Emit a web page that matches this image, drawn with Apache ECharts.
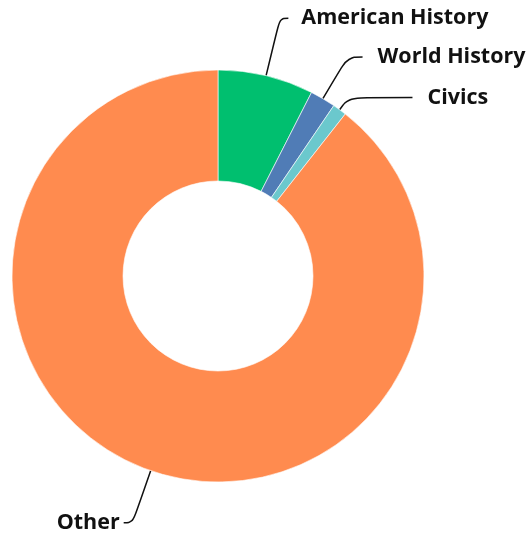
<!DOCTYPE html>
<html>
<head>
<meta charset="utf-8">
<script src="https://cdn.jsdelivr.net/npm/echarts@6/dist/echarts.min.js"></script>
<style>
html,body{margin:0;padding:0;background:#fff;}
#donut{width:528px;height:538px;}
</style>
</head>
<body>
<div id="donut"></div>
<script>
// share of items by subject (percent)
var subjects = ['American History', 'World History', 'Civics', 'Other'];
var shares = [7.5, 2.0, 1.1, 89.4];
var colors = ['#00bf6f', '#507cb6', '#6bc8cd', '#ff8b4f'];

// label line lengths per slice
var lineLen = [59, 48.5, 15, 55];
var lineLen2 = [8.5, 15, 64, 9];
var labelGap = [13, 15, 15, 4];

var chart = echarts.init(document.getElementById('donut'));

var pieData = subjects.map(function(name, i){
	return {
		name: name,
		value: shares[i],
		itemStyle: {color: colors[i]},
		labelLine: {length: lineLen[i], length2: lineLen2[i]},
		label: {distanceToLabelLine: labelGap[i]}
	};
});

chart.setOption({
	animation: false,
	series: [{
		type: 'pie',
		center: [218, 276],
		radius: [95, 206],
		startAngle: 90,
		clockwise: true,
		avoidLabelOverlap: false,
		itemStyle: {borderColor: '#fff', borderWidth: 0.6},
		label: {
			show: true,
			position: 'outside',
			color: '#111',
			fontFamily: 'Open Sans',
			fontWeight: 'bold',
			fontSize: 21.5
		},
		labelLine: {
			show: true,
			smooth: 0.4,
			lineStyle: {color: '#111', width: 1.5}
		},
		emphasis: {disabled: true},
		data: pieData
	}]
});
</script>
</body>
</html>
